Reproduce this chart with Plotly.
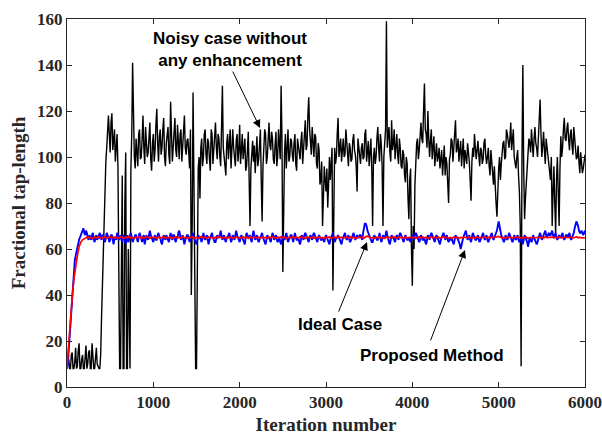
import plotly.graph_objects as go

# samples on the even grid (0, 20, ..., 6000)
iterations = list(range(0, 6001, 20))
# samples on the odd grid (10, 30, ..., 5990)
iterations_mid = list(range(10, 6000, 20))

noisy = [
    8, 12, 8, 15, 8, 17, 9, 19, 8, 14,
    8, 18, 10, 16, 8, 13, 8, 17, 9, 8,
    30, 62, 90, 104, 118, 102, 119, 108, 98, 110,
    60, 8, 92, 8, 102, 8, 35, 95, 141, 100,
    108, 96, 112, 100, 118, 97, 108, 102, 115, 94,
    110, 103, 121, 98, 112, 104, 117, 96, 109, 101,
    124, 98, 110, 103, 114, 99, 112, 105, 118, 101,
    108, 95, 40, 128, 37, 8, 95, 82, 108, 100,
    112, 97, 106, 94, 110, 102, 115, 99, 108, 96,
    131, 100, 92, 110, 104, 95, 112, 100, 107, 98,
    114, 103, 99, 108, 96, 111, 70, 102, 98, 93,
    109, 99, 112, 72, 104, 110, 100, 115, 103, 108,
    97, 111, 100, 106, 131, 50, 102, 95, 112, 100,
    107, 98, 110, 94, 104, 99, 111, 102, 116, 105,
    126, 108, 113, 100, 109, 95, 103, 90, 70, 96,
    85, 78, 100, 95, 42, 104, 100, 117, 104, 98,
    108, 101, 106, 96, 104, 99, 110, 101, 85, 103,
    97, 106, 100, 112, 103, 96, 108, 70, 104, 100,
    113, 98, 106, 70, 105, 159, 110, 102, 116, 106,
    99, 110, 97, 104, 95, 101, 89, 97, 73, 95,
    44, 60, 100, 108, 103, 115, 106, 132, 110, 120,
    100, 112, 104, 96, 106, 100, 95, 103, 98, 92,
    97, 80, 101, 107, 103, 116, 104, 98, 107, 101,
    95, 100, 106, 98, 81, 104, 110, 99, 107, 96,
    103, 99, 108, 97, 104, 92, 98, 88, 84, 74,
    95, 90, 102, 107, 100, 110, 104, 115, 108, 100,
    95, 103, 85, 9, 140, 73, 90, 100, 106, 112,
    100, 113, 104, 108, 125, 100, 111, 97, 104, 98,
    90, 70, 96, 67, 100, 70, 109, 104, 117, 107,
    115, 103, 112, 101, 108, 99, 105, 93, 98, 95,
    101,
]

noisy_mid = [
    10, 8, 14, 8, 11, 8, 16, 8, 12, 8,
    13, 8, 15, 8, 19, 8, 12, 10, 8, 14,
    45, 78, 98, 112, 110, 115, 103, 112, 104, 96,
    8, 75, 8, 80, 8, 60, 8, 110, 118, 95,
    102, 110, 99, 108, 104, 113, 100, 111, 99, 106,
    98, 114, 106, 109, 101, 112, 100, 106, 113, 97,
    108, 104, 117, 100, 107, 110, 98, 114, 104, 107,
    102, 112, 70, 90, 8, 60, 100, 104, 96, 110,
    101, 108, 99, 112, 97, 108, 104, 110, 100, 113,
    104, 96, 106, 99, 112, 101, 104, 96, 110, 103,
    97, 110, 104, 94, 103, 90, 95, 107, 105, 100,
    96, 105, 90, 96, 112, 97, 108, 105, 111, 99,
    105, 96, 112, 99, 108, 96, 110, 104, 98, 108,
    101, 106, 97, 108, 100, 107, 97, 109, 103, 118,
    112, 101, 105, 110, 97, 106, 88, 98, 82, 90,
    95, 88, 90, 104, 80, 97, 110, 100, 108, 103,
    100, 112, 99, 106, 98, 107, 103, 96, 108, 99,
    104, 99, 110, 98, 107, 101, 95, 100, 97, 108,
    104, 110, 96, 100, 112, 104, 113, 98, 103, 112,
    106, 101, 108, 96, 103, 92, 100, 82, 90, 60,
    70, 88, 106, 99, 112, 108, 120, 112, 104, 108,
    107, 99, 109, 101, 98, 104, 99, 92, 105, 100,
    90, 99, 108, 98, 110, 102, 108, 103, 96, 108,
    103, 97, 102, 90, 98, 100, 104, 103, 101, 104,
    97, 106, 101, 100, 96, 103, 90, 96, 80, 88,
    100, 97, 106, 99, 112, 106, 108, 103, 112, 98,
    100, 92, 70, 100, 95, 82, 96, 108, 102, 106,
    108, 106, 100, 116, 110, 105, 103, 108, 100, 94,
    100, 85, 80, 90, 85, 95, 100, 112, 108, 112,
    108, 110, 105, 113, 103, 100, 98, 102, 93, 99,
]

proposed = [
    8, 16, 30, 42, 52, 57, 61, 64, 66, 68,
    67, 68, 65, 66, 64, 67, 63, 66, 65, 67,
    64, 66, 63, 67, 65, 64, 66, 62, 65, 67,
    64, 66, 63, 65, 62, 66, 64, 67, 63, 65,
    66, 63, 67, 64, 65, 62, 66, 64, 68, 65,
    63, 66, 64, 67, 65, 62, 66, 64, 65, 63,
    67, 64, 66, 63, 65, 68, 64, 66, 62, 65,
    66, 63, 65, 67, 64, 62, 66, 65, 63, 67,
    64, 66, 62, 65, 67, 64, 63, 66, 65, 68,
    64, 66, 63, 65, 67, 63, 66, 64, 68, 65,
    63, 66, 64, 62, 67, 65, 66, 63, 68, 64,
    66, 63, 65, 67, 64, 62, 66, 65, 63, 67,
    64, 66, 63, 65, 62, 66, 64, 67, 63, 65,
    66, 63, 67, 64, 65, 62, 66, 64, 67, 65,
    63, 66, 64, 67, 65, 63, 66, 64, 65, 63,
    66, 64, 62, 65, 67, 63, 65, 66, 64, 62,
    65, 67, 64, 66, 63, 65, 67, 64, 66, 65,
    66, 64, 70, 71, 68, 66, 64, 63, 66, 65,
    64, 67, 63, 66, 65, 68, 64, 62, 66, 65,
    63, 66, 64, 67, 65, 63, 66, 64, 65, 63,
    66, 64, 67, 65, 63, 66, 64, 65, 62, 66,
    64, 67, 65, 63, 66, 64, 62, 65, 67, 64,
    66, 63, 65, 64, 62, 66, 65, 63, 60, 64,
    66, 68, 64, 66, 63, 67, 65, 64, 66, 63,
    65, 67, 64, 66, 63, 65, 67, 64, 66, 68,
    72, 67, 65, 63, 66, 64, 67, 65, 63, 66,
    64, 66, 63, 65, 62, 66, 64, 61, 65, 63,
    66, 64, 62, 65, 67, 64, 66, 68, 65, 67,
    66, 68, 65, 67, 64, 66, 65, 67, 64, 66,
    65, 67, 64, 66, 69, 72, 70, 67, 68, 66,
    68,
]

proposed_mid = [
    10, 22, 36, 47, 55, 59, 63, 65, 67, 69,
    66, 67, 64, 65, 66, 64, 65, 64, 66, 65,
    66, 64, 65, 66, 63, 66, 64, 65, 64, 66,
    65, 64, 66, 64, 65, 63, 66, 65, 64, 66,
    64, 65, 66, 63, 66, 64, 65, 66, 66, 64,
    65, 64, 66, 65, 63, 64, 65, 66, 64, 65,
    65, 66, 64, 65, 67, 66, 65, 64, 64, 66,
    64, 65, 66, 65, 63, 64, 65, 64, 65, 65,
    65, 64, 64, 66, 65, 63, 65, 65, 66, 66,
    65, 64, 65, 66, 65, 64, 65, 66, 66, 64,
    65, 65, 63, 65, 66, 65, 64, 66, 66, 65,
    64, 64, 66, 65, 63, 64, 65, 64, 65, 66,
    65, 64, 64, 63, 64, 65, 65, 65, 64, 66,
    64, 65, 65, 64, 63, 64, 65, 66, 66, 64,
    65, 65, 66, 66, 64, 65, 65, 64, 64, 65,
    65, 63, 64, 66, 65, 64, 65, 65, 63, 64,
    66, 65, 65, 64, 64, 66, 65, 65, 65, 66,
    65, 67, 71, 70, 67, 65, 63, 65, 65, 64,
    65, 65, 64, 65, 66, 66, 63, 64, 65, 64,
    65, 65, 66, 66, 64, 65, 65, 64, 64, 65,
    65, 66, 66, 64, 64, 65, 64, 63, 64, 65,
    66, 66, 64, 65, 65, 63, 64, 66, 66, 65,
    64, 64, 64, 63, 64, 65, 64, 62, 62, 65,
    67, 66, 65, 64, 65, 66, 64, 65, 64, 64,
    66, 65, 65, 64, 64, 66, 65, 65, 67, 70,
    70, 66, 64, 64, 65, 65, 66, 64, 64, 65,
    65, 64, 64, 64, 64, 65, 63, 63, 64, 64,
    65, 63, 63, 66, 65, 65, 67, 66, 66, 66,
    67, 66, 66, 65, 65, 65, 66, 65, 65, 66,
    66, 65, 65, 67, 71, 71, 68, 67, 67, 67,
]

ideal = [
    8, 20, 30, 39, 47, 53, 57, 61, 63, 64,
    64.5, 65, 65.3, 64.8, 65, 64.6, 65.2, 64.9, 65.4, 64.7,
    65.1, 64.8, 65.3, 64.6, 65.0, 65.4, 64.9, 65.2, 64.7, 65.1,
    64.8, 65.3, 65.0, 64.6, 65.2, 64.9, 65.5, 64.8, 65.0, 64.7,
    65.2, 64.9, 65.3, 64.6, 65.1, 64.8, 65.4, 65.0, 64.7, 65.2,
    64.9, 65.1, 64.6, 65.3, 64.8, 65.0, 65.4, 64.7, 65.1, 64.9,
    65.2, 64.6, 65.0, 65.3, 64.8, 65.1, 64.7, 65.4, 64.9, 65.0,
    64.7, 65.2, 64.9, 65.3, 64.6, 65.1, 64.8, 65.0, 65.4, 64.8,
    65.1, 64.7, 65.3, 64.9, 65.0, 64.6, 65.2, 64.8, 65.4, 65.0,
    64.8, 65.2, 64.6, 65.1, 64.9, 65.3, 64.7, 65.0, 65.2, 64.8,
    65.0, 64.7, 65.3, 64.9, 65.1, 64.6, 65.4, 64.8, 65.0, 65.2,
    64.9, 65.1, 64.7, 65.3, 64.8, 65.0, 64.6, 65.2, 64.9, 65.4,
    65.0, 64.7, 65.2, 64.9, 65.3, 64.8, 65.1, 64.6, 65.0, 65.2,
    64.8, 65.3, 64.9, 65.1, 64.7, 65.4, 64.9, 65.0, 64.6, 65.2,
    65.0, 64.8, 65.2, 64.7, 65.1, 64.9, 65.3, 64.8, 65.0, 64.6,
    65.1, 64.9, 65.3, 64.7, 65.0, 65.2, 64.8, 65.4, 64.9, 65.1,
    64.7, 65.0, 65.2, 64.8, 65.3, 64.9, 65.1, 64.6, 65.0, 65.2,
    64.9, 65.1, 64.7, 65.4, 65.6, 65.2, 64.8, 65.0, 64.7, 65.1,
    64.9, 65.3, 64.8, 65.0, 64.6, 65.2, 64.9, 65.1, 64.7, 65.3,
    65.0, 64.8, 65.2, 64.9, 65.1, 64.7, 65.3, 64.8, 65.0, 65.2,
    64.9, 65.1, 64.7, 65.0, 65.3, 64.8, 65.2, 64.9, 65.1, 64.6,
    65.0, 65.3, 64.8, 65.1, 64.9, 65.2, 64.7, 65.0, 65.3, 64.9,
    65.1, 64.8, 65.0, 64.6, 65.2, 64.9, 65.1, 64.7, 65.0, 64.8,
    65.2, 64.9, 65.1, 65.3, 64.8, 65.0, 64.7, 65.2, 64.9, 65.1,
    64.8, 65.0, 65.3, 64.9, 65.1, 64.7, 65.2, 64.9, 65.0, 65.3,
    65.5, 65.1, 64.8, 65.0, 64.7, 65.2, 64.9, 65.1, 64.8, 65.0,
    65.2, 64.9, 65.1, 64.7, 65.0, 64.8, 65.2, 64.6, 65.0, 64.9,
    65.1, 64.8, 65.0, 65.2, 64.9, 65.1, 64.7, 65.3, 64.9, 65.1,
    65.0, 65.2, 64.8, 65.1, 64.9, 65.3, 65.0, 64.8, 65.2, 64.9,
    65.1, 64.9, 65.2, 64.8, 65.0, 65.3, 64.9, 65.1, 64.8, 65.0,
    64.9,
]

x_ticks = [0, 1000, 2000, 3000, 4000, 5000, 6000]
y_ticks = [0, 20, 40, 60, 80, 100, 120, 140, 160]


def merge(xa, ya, xb, yb):
    pts = sorted(list(zip(xa, ya)) + list(zip(xb, yb)))
    return [p[0] for p in pts], [p[1] for p in pts]


nx, ny = merge(iterations, noisy, iterations_mid, noisy_mid)
px, py = merge(iterations, proposed, iterations_mid, proposed_mid)

fig = go.Figure()
fig.add_trace(go.Scatter(x=nx, y=ny, mode="lines",
                         line=dict(color="black", width=1.4), showlegend=False))
fig.add_trace(go.Scatter(x=px, y=py, mode="lines",
                         line=dict(color="#0000ff", width=1.9), showlegend=False))
fig.add_trace(go.Scatter(x=iterations, y=ideal, mode="lines",
                         line=dict(color="#ff0000", width=1.7), showlegend=False))

serif = "Liberation Serif, Times New Roman, serif"
sans = "Liberation Sans, Arial, sans-serif"

axis_common = dict(
    showline=True, linecolor="#262626", linewidth=1, mirror="ticks",
    ticks="inside", ticklen=5, tickcolor="#262626", tickwidth=1,
    showgrid=False, zeroline=False,
    tickfont=dict(family=serif, size=17, color="#262626", weight="bold"),
)

fig.update_xaxes(range=[0, 6000], tickvals=x_ticks,
                 title=dict(text="Iteration number",
                            font=dict(family=serif, size=19, color="#262626", weight="bold"),
                            standoff=6),
                 **axis_common)
fig.update_yaxes(range=[0, 160], tickvals=y_ticks,
                 title=dict(text="Fractional tap-length",
                            font=dict(family=serif, size=19, color="#262626", weight="bold"),
                            standoff=6),
                 **axis_common)

ann_font = dict(family=sans, size=17, color="black", weight="bold")
fig.add_annotation(x=1888, y=146.7, xref="x", yref="y", showarrow=False,
                   text="Noisy case without<br>any enhancement", font=ann_font,
                   xanchor="center", yanchor="middle")
fig.add_annotation(x=3162, y=27, xref="x", yref="y", showarrow=False,
                   text="Ideal Case", font=ann_font, xanchor="center", yanchor="middle")
fig.add_annotation(x=4228, y=13.9, xref="x", yref="y", showarrow=False,
                   text="Proposed Method", font=ann_font, xanchor="center", yanchor="middle")

arrow_style = dict(showarrow=True, arrowhead=2, arrowsize=1.6, arrowwidth=1,
                   arrowcolor="black", text="", xref="x", yref="y")
fig.add_annotation(x=2236, y=112.6, ax=-28, ay=-58, **arrow_style)
fig.add_annotation(x=3475, y=63.0, ax=-29, ay=71, **arrow_style)
fig.add_annotation(x=4610, y=59.6, ax=-35, ay=92, **arrow_style)

fig.update_layout(
    width=602, height=435,
    margin=dict(l=67, r=17, t=19, b=48, autoexpand=False),
    paper_bgcolor="white", plot_bgcolor="white",
)

fig.write_html("out.html")
